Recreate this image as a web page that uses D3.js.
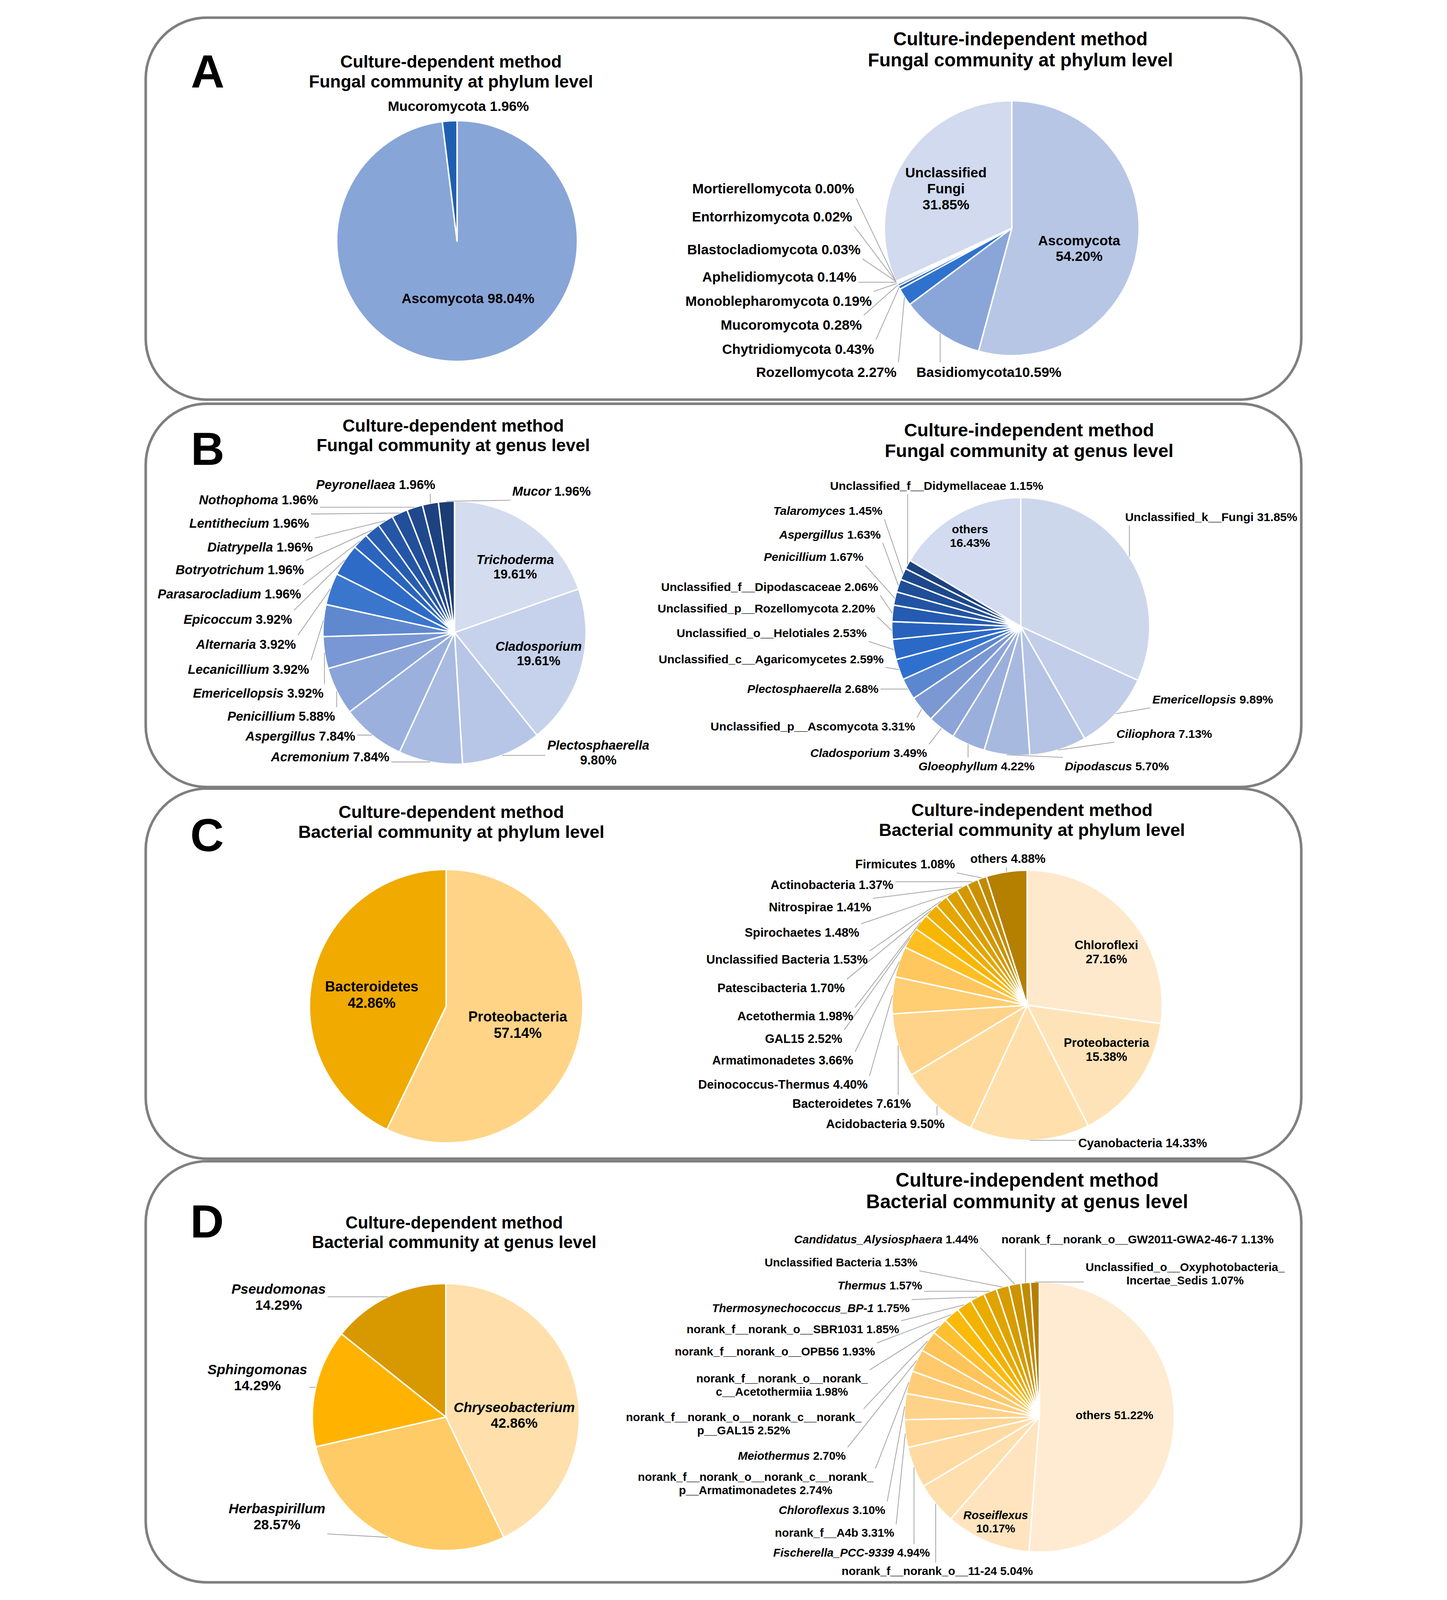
<!DOCTYPE html>
<html>
<head>
<meta charset="utf-8">
<script src="https://cdn.jsdelivr.net/npm/d3@7"></script>
<style>
  html, body { margin: 0; padding: 0; background: #fff; width: 100%; height: 100%; overflow: hidden; }
  #chart { width: 100vw; height: 100vh; }
  svg { display: block; }
  text { font-family: "Liberation Sans", Arial, sans-serif; font-weight: bold; fill: #000; }
</style>
</head>
<body>
<div id="chart"></div>
<script>
// ---- data ----
// A: fungi, phylum level
const aCultNames = ["Ascomycota", "Mucoromycota"];
const aCultValues = [98.04, 1.96];
const aIndNames = ["Ascomycota", "Basidiomycota", "Rozellomycota", "Chytridiomycota", "Mucoromycota",
  "Monoblepharomycota", "Aphelidiomycota", "Blastocladiomycota", "Entorrhizomycota", "Mortierellomycota",
  "Unclassified\nFungi"];
const aIndValues = [54.20, 10.59, 2.27, 0.43, 0.28, 0.19, 0.14, 0.03, 0.02, 0.00, 31.85];

// B: fungi, genus level
const bCultNames = ["Trichoderma", "Cladosporium", "Plectosphaerella", "Acremonium", "Aspergillus", "Penicillium",
  "Emericellopsis", "Lecanicillium", "Alternaria", "Epicoccum", "Parasarocladium", "Botryotrichum",
  "Diatrypella", "Lentithecium", "Nothophoma", "Peyronellaea", "Mucor"];
const bCultValues = [19.61, 19.61, 9.80, 7.84, 7.84, 5.88, 3.92, 3.92, 3.92, 3.92, 1.96, 1.96, 1.96, 1.96, 1.96, 1.96, 1.96];
const bIndNames = ["Unclassified_k__Fungi", "Emericellopsis", "Ciliophora", "Dipodascus", "Gloeophyllum",
  "Cladosporium", "Unclassified_p__Ascomycota", "Plectosphaerella", "Unclassified_c__Agaricomycetes",
  "Unclassified_o__Helotiales", "Unclassified_p__Rozellomycota", "Unclassified_f__Dipodascaceae",
  "Penicillium", "Aspergillus", "Talaromyces", "Unclassified_f__Didymellaceae", "others"];
const bIndValues = [31.85, 9.89, 7.13, 5.70, 4.22, 3.49, 3.31, 2.68, 2.59, 2.53, 2.20, 2.06, 1.67, 1.63, 1.45, 1.15, 16.43];
const bIndItalic = [0, 1, 1, 1, 1, 1, 0, 1, 0, 0, 0, 0, 1, 1, 1, 0, 0];

// C: bacteria, phylum level
const cCultNames = ["Proteobacteria", "Bacteroidetes"];
const cCultValues = [57.14, 42.86];
const cIndNames = ["Chloroflexi", "Proteobacteria", "Cyanobacteria", "Acidobacteria", "Bacteroidetes",
  "Deinococcus-Thermus", "Armatimonadetes", "GAL15", "Acetothermia", "Patescibacteria",
  "Unclassified Bacteria", "Spirochaetes", "Nitrospirae", "Actinobacteria", "Firmicutes", "others"];
const cIndValues = [27.16, 15.38, 14.33, 9.50, 7.61, 4.40, 3.66, 2.52, 1.98, 1.70, 1.53, 1.48, 1.41, 1.37, 1.08, 4.88];

// D: bacteria, genus level
const dCultNames = ["Chryseobacterium", "Herbaspirillum", "Sphingomonas", "Pseudomonas"];
const dCultValues = [42.86, 28.57, 14.29, 14.29];
const dIndNames = ["others", "Roseiflexus", "norank_f__norank_o__11-24", "Fischerella_PCC-9339", "norank_f__A4b",
  "Chloroflexus", "norank_f__norank_o__norank_c__norank_\np__Armatimonadetes", "Meiothermus",
  "norank_f__norank_o__norank_c__norank_\np__GAL15", "norank_f__norank_o__norank_\nc__Acetothermiia",
  "norank_f__norank_o__OPB56", "norank_f__norank_o__SBR1031", "Thermosynechococcus_BP-1", "Thermus",
  "Unclassified Bacteria", "Candidatus_Alysiosphaera", "norank_f__norank_o__GW2011-GWA2-46-7",
  "Unclassified_o__Oxyphotobacteria_\nIncertae_Sedis"];
const dIndValues = [51.22, 10.17, 5.04, 4.94, 3.31, 3.10, 2.74, 2.70, 2.52, 1.98, 1.93, 1.85, 1.75, 1.57, 1.53, 1.44, 1.13, 1.07];
const dIndItalic = [0, 1, 0, 1, 0, 1, 0, 1, 0, 0, 0, 0, 1, 1, 0, 1, 0, 0];

const panelLetters = ["A", "B", "C", "D"];
const titleLines = [
  ["Culture-dependent method", "Fungal community at phylum level"],
  ["Culture-independent method", "Fungal community at phylum level"],
  ["Culture-dependent method", "Fungal community at genus level"],
  ["Culture-independent method", "Fungal community at genus level"],
  ["Culture-dependent method", "Bacterial community at phylum level"],
  ["Culture-independent method", "Bacterial community at phylum level"],
  ["Culture-dependent method", "Bacterial community at genus level"],
  ["Culture-independent method", "Bacterial community at genus level"]
];

// ---- colours ----
const aCultColors = ["#88a5d8", "#1f5fb2"];
const aIndColors = ["#b7c6e5", "#8aa6d9", "#2f72cd", "#2a69c0", "#2662b4", "#235ba8", "#21549b", "#1f4d8f",
  "#1c4683", "#1a3f77", "#d1daee"];
const bCultColors = ["#d4dcef", "#c6d2eb", "#b7c6e6", "#a9bbe1", "#9bb0dd", "#8ba5d9", "#7997d4", "#5f88cf",
  "#3b76cd", "#2d6bc7", "#2a64bd", "#275db1", "#2456a5", "#224f99", "#20488c", "#1e4280", "#1b3c74"];
const bIndColors = ["#cdd7ec", "#c2cde9", "#b5c3e4", "#a8b9e0", "#9bafdc", "#8ca4d8", "#7b98d3", "#5a87cf",
  "#2f70cf", "#2b69c6", "#2862bc", "#255bb0", "#2254a3", "#204e97", "#1e488b", "#1c4280", "#d3dbf1"];
const cCultColors = ["#ffd487", "#f0aa00"];
const cIndColors = ["#ffe9cc", "#ffe3b8", "#ffdfab", "#ffd99a", "#ffd38a", "#ffcd72", "#ffc75e", "#ffbf22",
  "#f7b600", "#eead00", "#e4a600", "#dc9f00", "#d39800", "#ca9100", "#c18a00", "#b57f00"];
const dCultColors = ["#ffdfab", "#ffcb66", "#ffb300", "#d89800"];
const dIndColors = ["#ffebd2", "#ffe4bf", "#ffdfae", "#ffdba3", "#ffd696", "#ffd28a", "#ffcd7a", "#ffc96c",
  "#ffc458", "#ffbf2e", "#fbba08", "#f2b200", "#e9ab00", "#e0a400", "#d69c00", "#cc9400", "#c18b00", "#b67f00"];

// ---- layout ----
const W = 3704, H = 4985;
const panelBoxes = [[52, 55, 1190], [52, 1258, 1194], [52, 2457, 1153], [52, 3618, 1312]];
const letterPos = [[245, 273], [245, 1448], [243, 2652], [243, 3856]];
const titlePos = [[1003, 211, 54], [2777, 141, 58], [1010, 1345, 54], [2804, 1359, 57],
  [1004, 2549, 55], [2813, 2542, 55], [1013, 3828, 53], [2798, 3697, 60]];

// label layout per slice: [x, y, anchor, leader, separator]
const charts = [
  { names: aCultNames, values: aCultValues, colors: aCultColors, cx: 1022, cy: 751, r: 375, fs: 43,
    labels: [[1056, 944, "middle", 0, " "], [1026, 346, "middle", 0, " "]] },
  { names: aIndNames, values: aIndValues, colors: aIndColors, cx: 2750, cy: 711, r: 397, fs: 43,
    labels: [[2960, 764, "middle", 0, "\n"], [2453, 1174, "start", 1, ""], [2391, 1174, "end", 1, " "],
      [2321, 1103, "end", 1, " "], [2283, 1027, "end", 1, " "], [2314, 953, "end", 1, " "],
      [2266, 878, "end", 1, " "], [2279, 792, "end", 1, " "], [2253, 690, "end", 1, " "],
      [2259, 603, "end", 1, " "], [2545, 553, "middle", 0, "\n"]] },
  { names: bCultNames, values: bCultValues, colors: bCultColors, italic: bCultNames.map(() => 1),
    cx: 1014, cy: 1971, r: 410, fs: 40,
    labels: [[1203, 1757, "middle", 0, "\n"], [1276, 2027, "middle", 0, "\n"], [1462, 2336, "middle", 1, "\n"],
      [811, 2372, "end", 1, " "], [705, 2308, "end", 1, " "], [642, 2246, "end", 1, " "],
      [606, 2174, "end", 1, " "], [561, 2100, "end", 1, " "], [520, 2022, "end", 1, " "],
      [508, 1944, "end", 1, " "], [536, 1865, "end", 1, " "], [545, 1789, "end", 1, " "],
      [573, 1719, "end", 1, " "], [561, 1644, "end", 1, " "], [589, 1571, "end", 1, " "],
      [954, 1524, "end", 1, " "], [1194, 1544, "start", 1, " "]] },
  { names: bIndNames, values: bIndValues, colors: bIndColors, italic: bIndItalic,
    cx: 2778, cy: 1952, r: 402, fs: 37,
    labels: [[3103, 1624, "start", 1, " "], [3188, 2192, "start", 1, " "], [3076, 2299, "start", 1, " "],
      [2915, 2400, "start", 1, " "], [2821, 2400, "end", 1, " "], [2486, 2359, "end", 1, " "],
      [2449, 2276, "end", 1, " "], [2335, 2159, "end", 1, " "], [2351, 2066, "end", 1, " "],
      [2298, 1985, "end", 1, " "], [2325, 1908, "end", 1, " "], [2334, 1841, "end", 1, " "],
      [2288, 1748, "end", 1, " "], [2342, 1678, "end", 1, " "], [2347, 1604, "end", 1, " "],
      [2516, 1526, "middle", 1, " "], [2620, 1661, "middle", 0, "\n"]] },
  { names: cCultNames, values: cCultValues, colors: cCultColors, cx: 988, cy: 3135, r: 426, fs: 44,
    labels: [[1211, 3183, "middle", 0, "\n"], [756, 3089, "middle", 0, "\n"]] },
  { names: cIndNames, values: cIndValues, colors: cIndColors, cx: 2798, cy: 3132, r: 421, fs: 38,
    labels: [[3045, 2958, "middle", 0, "\n"], [3045, 3262, "middle", 0, "\n"], [2957, 3575, "start", 1, " "],
      [2541, 3515, "end", 1, " "], [2436, 3452, "end", 1, " "], [2301, 3392, "end", 1, " "],
      [2256, 3317, "end", 1, " "], [2222, 3249, "end", 1, " "], [2256, 3179, "end", 1, " "],
      [2230, 3091, "end", 1, " "], [2301, 3003, "end", 1, " "], [2275, 2918, "end", 1, " "],
      [2312, 2839, "end", 1, " "], [2381, 2770, "end", 1, " "], [2573, 2705, "end", 1, " "],
      [2738, 2688, "middle", 1, " "]] },
  { names: dCultNames, values: dCultValues, colors: dCultColors, italic: dCultNames.map(() => 1),
    cx: 987, cy: 4415, r: 416, fs: 43,
    labels: [[1200, 4399, "middle", 0, "\n"], [461, 4715, "middle", 1, "\n"], [400, 4282, "middle", 1, "\n"],
      [466, 4031, "middle", 1, "\n"]] },
  { names: dIndNames, values: dIndValues, colors: dIndColors, italic: dIndItalic,
    cx: 2836, cy: 4415, r: 421, fs: 36,
    labels: [[3070, 4422, "middle", 0, " "], [2700, 4733, "middle", 0, "\n"], [2816, 4907, "end", 1, " "],
      [2495, 4850, "end", 1, " "], [2384, 4788, "end", 1, " "], [2356, 4717, "end", 1, " "],
      [1952, 4614, "middle", 1, " "], [2233, 4548, "end", 1, " "], [1915, 4428, "middle", 1, " "],
      [2034, 4307, "middle", 1, " "], [2324, 4223, "end", 1, " "], [2399, 4154, "end", 1, " "],
      [2432, 4088, "end", 1, " "], [2471, 4018, "end", 1, " "], [2456, 3946, "end", 1, " "],
      [2646, 3874, "end", 1, " "], [2718, 3874, "start", 1, " "], [3290, 3960, "middle", 1, " "]] }
];

// scale the whole figure to whatever viewport we get
const svg = d3.select("#chart").append("svg")
  .attr("width", "100%").attr("height", "100%")
  .attr("viewBox", `0 0 ${W} ${H}`)
  .attr("preserveAspectRatio", "xMidYMin meet");

svg.append("rect").attr("width", W).attr("height", H).attr("fill", "#fff");

// panel frames and letters
panelBoxes.forEach(function (b, i) {
  svg.append("rect")
    .attr("x", b[0]).attr("y", b[1])
    .attr("width", 3600).attr("height", b[2])
    .attr("rx", 190).attr("ry", 190)
    .attr("fill", "none")
    .attr("stroke", "#7f7f7f")
    .attr("stroke-width", 8);
  svg.append("text")
    .attr("x", letterPos[i][0]).attr("y", letterPos[i][1])
    .attr("text-anchor", "middle")
    .style("font-size", "145px")
    .text(panelLetters[i]);
});

// titles
titleLines.forEach(function (lines, i) {
  const p = titlePos[i];
  lines.forEach(function (t, j) {
    svg.append("text")
      .attr("x", p[0]).attr("y", p[1] + j * p[2] * 1.13)
      .attr("text-anchor", "middle")
      .style("font-size", p[2] + "px")
      .text(t);
  });
});

function labelLines(name, value, sep) {
  const lines = name.split("\n").map(s => [{ t: s, name: true }]);
  const v = value.toFixed(2) + "%";
  if (sep === "\n") lines.push([{ t: v, name: false }]);
  else lines[lines.length - 1].push({ t: sep + v, name: false });
  return lines;
}

function drawPie(c) {
  const data = c.names.map((n, i) => ({ name: n, value: c.values[i], i: i }));
  const pie = d3.pie().sort(null).value(d => d.value)(data);
  const arc = d3.arc().innerRadius(0).outerRadius(c.r);
  const g = svg.append("g").attr("transform", `translate(${c.cx},${c.cy})`);

  g.selectAll("path.slice")
    .data(pie)
    .enter()
    .append("path")
    .attr("class", "slice")
    .attr("d", arc)
    .attr("fill", d => c.colors[d.index])
    .attr("stroke", "#ffffff")
    .attr("stroke-width", 4.5)
    .attr("stroke-linejoin", "round");

  const lineLayer = svg.append("g");
  const lh = c.fs * 1.15;

  pie.forEach(function (d) {
    const lab = c.labels[d.index];
    const italic = c.italic ? c.italic[d.index] : 0;
    const lg = svg.append("g");
    labelLines(d.data.name, d.data.value, lab[4]).forEach(function (parts, j) {
      const t = lg.append("text")
        .attr("x", lab[0]).attr("y", lab[1] + j * lh)
        .attr("text-anchor", lab[2])
        .style("font-size", c.fs + "px");
      parts.forEach(function (p) {
        t.append("tspan")
          .style("font-style", p.name && italic ? "italic" : "normal")
          .text(p.t);
      });
    });

    if (lab[3]) {
      // leader line: from label box to the slice edge at mid angle
      const a = (d.startAngle + d.endAngle) / 2;
      const tx = c.cx + c.r * Math.sin(a);
      const ty = c.cy - c.r * Math.cos(a);
      const bb = lg.node().getBBox();
      const pad = 6;
      const x0 = bb.x - pad, x1 = bb.x + bb.width + pad;
      const y0 = bb.y - pad, y1 = bb.y + bb.height + pad;
      const sx = Math.max(x0, Math.min(x1, tx));
      const sy = Math.max(y0, Math.min(y1, ty));
      lineLayer.append("line")
        .attr("x1", sx).attr("y1", sy)
        .attr("x2", tx).attr("y2", ty)
        .attr("stroke", "#a6a6a6")
        .attr("stroke-width", 2.5);
    }
  });
}

charts.forEach(drawPie);
</script>
</body>
</html>
